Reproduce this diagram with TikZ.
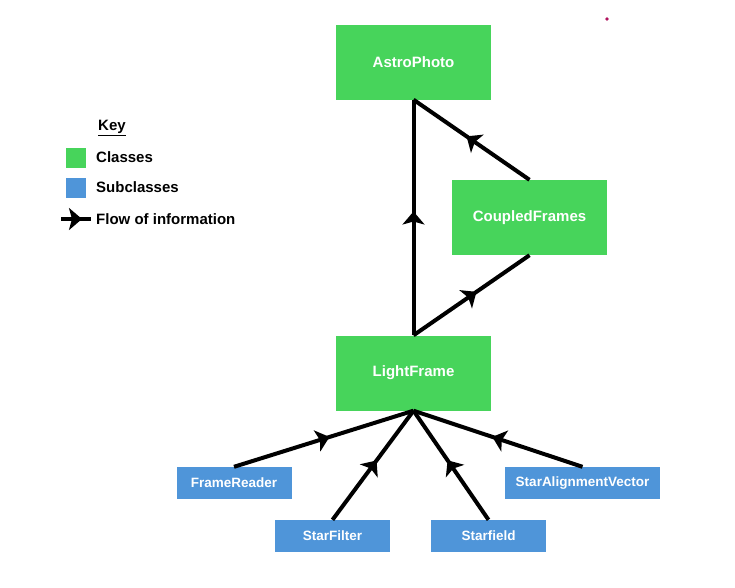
\documentclass[tikz,border=0pt]{standalone}
\usepackage{fontspec}
\setmainfont{Liberation Sans}
\usepackage{tikz}
\usetikzlibrary{arrows.meta}
\usetikzlibrary{decorations.markings}

\definecolor{classgreen}{HTML}{47D45B}
\definecolor{subblue}{HTML}{4F95D9}
\definecolor{dotred}{HTML}{B0125E}

\tikzset{
  classbox/.style={fill=classgreen, minimum width=155pt, minimum height=75pt, inner sep=0pt,
    text=white, font=\fontsize{15}{17}\selectfont\bfseries},
  subbox/.style={fill=subblue, minimum width=115pt, minimum height=32pt, inner sep=0pt,
    text=white, font=\fontsize{13.5}{15}\selectfont\bfseries},
  keytext/.style={anchor=west, inner sep=0pt, font=\fontsize{15}{17}\selectfont\bfseries},
  flow/.style={line width=4pt, postaction={decorate},
    decoration={markings, mark=at position 0.5 with {\arrow[xshift=6pt]{Stealth[length=13pt,width=22pt,inset=3pt]}}}}
}

\begin{document}
\begin{tikzpicture}[x=1pt,y=-1pt]
  \useasboundingbox (0,0) rectangle (735,587);
  % classes
  \node[classbox] (astro)   at (413.5,62)    {AstroPhoto};
  \node[classbox] (coupled) at (529.5,217.5) {CoupledFrames};
  \node[classbox] (light)   at (413.5,373)   {LightFrame};
  % subclasses
  \node[subbox] (reader) at (234,483)   {FrameReader};
  \node[subbox] (filter) at (332.5,536) {StarFilter};
  \node[subbox] (field)  at (488.5,536) {Starfield};
  \node[subbox, minimum width=155pt] (align) at (582.5,483) {StarAlignmentVector};

  \draw[flow] (light.north) -- (astro.south);
  \draw[flow] (light.north) -- (coupled.south);
  \draw[flow] (coupled.north) -- (astro.south);
  \draw[flow] (reader.north) -- (light.south);
  \draw[flow] (filter.north) -- (light.south);
  \draw[flow] (field.north) -- (light.south);
  \draw[flow] (align.north) -- (light.south);

  % key
  \node[keytext] (key) at (98,128) {\underline{Key}};
  \node[fill=classgreen, minimum size=20pt, inner sep=0pt] (kclass) at (76,157.5) {};
  \node[fill=subblue, minimum size=20pt, inner sep=0pt] (ksub) at (76,187.5) {};
  \node[keytext] (tclass) at (96,157.5) {Classes};
  \node[keytext] (tsub) at (96,187.5) {Subclasses};
  \coordinate (kstart) at (61,219);
  \coordinate (kend) at (91,219);
  \draw[flow] (kstart) -- (kend);
  \node[keytext] (tflow) at (96,219) {Flow of information};

  \fill[dotred] (607,19) circle (1.8pt);
\end{tikzpicture}
\end{document}
